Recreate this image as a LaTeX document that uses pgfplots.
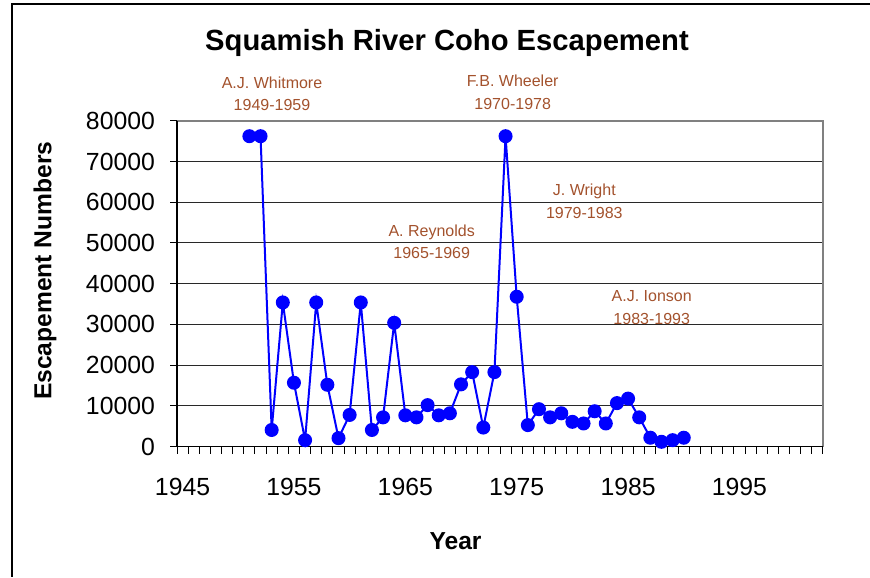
\documentclass[border=0pt]{standalone}
\usepackage{pgfplots}
\pgfplotsset{compat=1.18}
\usepackage{fontspec}
\setmainfont{Liberation Sans}
\definecolor{anno}{RGB}{163,82,45}
\definecolor{gridc}{RGB}{40,40,40}
\definecolor{bordc}{RGB}{128,128,128}
\begin{document}
\begin{tikzpicture}
\path[use as bounding box] (0,0) rectangle (435pt,288.5pt);
\draw[line width=0.8pt] (435pt,286.5pt) -- (6pt,286.5pt) -- (6pt,0pt);
\begin{axis}[
 at={(88.5pt,65.15pt)}, anchor=south west,
 scale only axis, width=323pt, height=163pt,
 xmin=1944.5, xmax=2002.5, ymin=0, ymax=80000,
 axis line style={draw=none},
 xtick={1945,1955,...,1995},
 minor xtick={1944.5,1945.5,...,2002.5},
 ytick={0,10000,...,80000},
 tick align=outside, xtick pos=bottom, ytick pos=left,
 major tick length=3.5pt, minor tick length=3.5pt,
 every major x tick/.append style={draw=none},
 tick style={black, line width=0.5pt},
 ymajorgrids, grid style={gridc, line width=0.5pt},
 scaled y ticks=false,
 /pgf/number format/1000 sep={},
 /pgf/number format/assume math mode=true,
 ticklabel style={font=\fontsize{12.4}{14}\selectfont},
 yticklabel style={xshift=-4pt},
 xticklabel style={yshift=-8.5pt},
 clip=false,
]
\addplot[blue, line width=1pt, mark=*, mark size=3pt, mark options={fill=blue, draw=blue}] table {
x y
1951 76200
1952 76200
1953 4100
1954 35400
1955 15700
1956 1600
1957 35400
1958 15200
1959 2100
1960 7800
1961 35400
1962 4100
1963 7200
1964 30400
1965 7700
1966 7200
1967 10200
1968 7700
1969 8200
1970 15300
1971 18300
1972 4700
1973 18300
1974 76200
1975 36800
1976 5300
1977 9200
1978 7200
1979 8200
1980 6100
1981 5700
1982 8700
1983 5700
1984 10700
1985 11800
1986 7200
1987 2200
1988 1200
1989 1600
1990 2200
};
\draw[bordc, line width=0.8pt] (rel axis cs:0,1) -- (rel axis cs:1,1) -- (rel axis cs:1,0);
\draw[black, line width=0.6pt] (rel axis cs:0,1) -- (rel axis cs:0,0) -- (rel axis cs:1,0);
\end{axis}
\node[font=\bfseries\fontsize{14.6}{16}\selectfont] at (223.5pt,267pt) {Squamish River Coho Escapement};
\node[rotate=90, font=\bfseries\fontsize{12.3}{14}\selectfont] at (22.5pt,153.2pt) {Escapement Numbers};
\node[font=\bfseries\fontsize{12.3}{14}\selectfont] at (227.75pt,18pt) {Year};
\begin{scope}[every node/.style={text=anno, align=center, font=\fontsize{8}{11.25}\selectfont}]
\node at (136pt,241.5pt) {A.J. Whitmore\\1949-1959};
\node at (256.35pt,242.25pt) {F.B. Wheeler\\1970-1978};
\node at (215.85pt,167.5pt) {A. Reynolds\\1965-1969};
\node at (292.15pt,187.8pt) {J. Wright\\1979-1983};
\node at (325.85pt,134.75pt) {A.J. Ionson\\1983-1993};
\end{scope}
\end{tikzpicture}
\end{document}
